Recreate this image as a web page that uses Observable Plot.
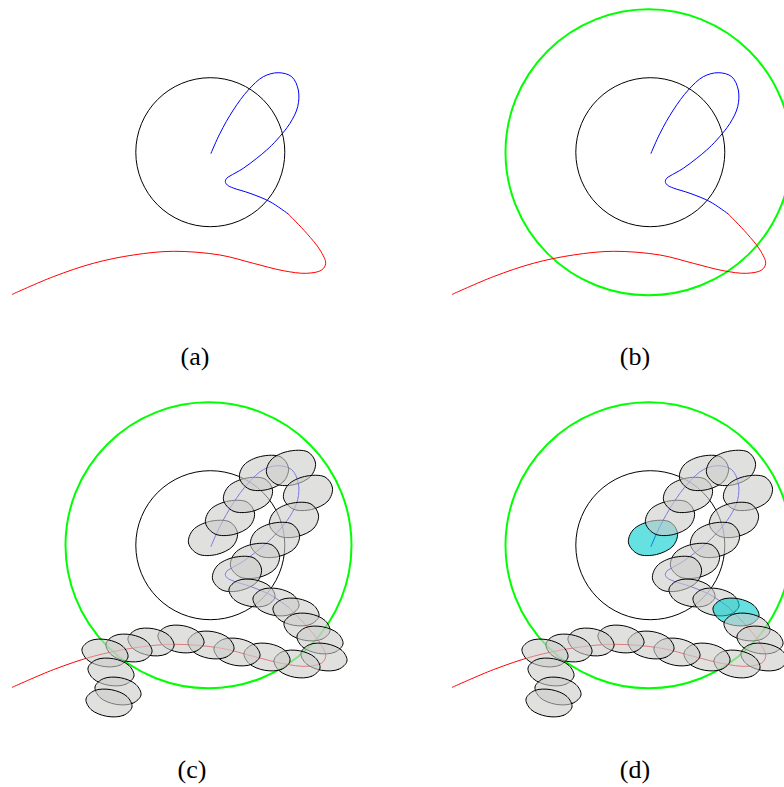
<!DOCTYPE html>
<html>
<head>
<meta charset="utf-8">
<style>html,body{margin:0;padding:0;background:#fff}svg{display:block}</style>
<script src="https://cdn.jsdelivr.net/npm/d3@7"></script>
<script src="https://cdn.jsdelivr.net/npm/@observablehq/plot@0.6"></script>
</head>
<body>
<script>
const panelNames = ["(a)", "(b)", "(c)", "(d)"];
const panelDx = [0, 440, 0, 440];
const panelDy = [0, 0, 393, 393];
const labelX = [195, 195, 192, 195];
const labelY = [357, 357, 377, 377];

const innerCircle = {x: 210.3, y: 152.2};
const outerCircle = {x: 208.5, y: 152.3};
const innerPanels = [0, 1, 2, 3];
const outerPanels = [1, 2, 3];

const blueX = [211,220,233.3,248.3,263.3,278.3,291.7,298.3,297.7,290,276.7,266.7,256.7,243.3,230,226.7,225.3,227.3,233.3,250,270,288.3];
const blueY = [153.3,133.3,110,90,76.7,72.7,76.7,90,106.7,123.3,140,150,158.3,168.3,176,178.3,181.7,185,188,193.3,201.7,214];
const redX = [288.3,306.7,320,325.7,321.7,306.7,283.3,253.3,220,173.3,133.3,93.3,53.3,12.3];
const redY = [214,233.3,250,263.3,270,273.3,270.7,263.3,255,251.3,255,263.3,276.7,294.3];

// blob centres, in the coordinates of panel (c)
const blobX = [213,230,248,264,291,308,294,275,255,237,252,276,296,307,320,324,297,267,237,211,181,151,129,105,111,118,109];
const blobY = [538,518,495,473,468,493,520,540,561,574,593,602,612,627,640,657,664,657,652,645,639,642,648,653,672,691,703];
const blobKind = ["U","U","U","U","U","U","U","U","U","U","D","D","D","D","D","D","D","D","D","D","D","D","D","D","D","D","D"];
const shapeUx = [24.5,20,3.5,-15,-24.5,-20,-3.5,17];
const shapeUy = [-5,8,16.5,16,5,-8,-16.5,-16];
const shapeDx = [23,14.7,-2.3,-18,-23,-14.7,2.3,18];
const shapeDy = [4,12.3,13.3,6.5,-4,-12.3,-13.3,-6.5];
const cyanBlobsInD = [0, 12];

const outline = (xs, ys, dx, dy) => xs.map((x, i) => ({x: x + dx, y: ys[i] + dy}));

const labels = panelNames.map((name, i) => ({name, x: labelX[i] + panelDx[i], y: labelY[i] + panelDy[i]}));
const inner = innerPanels.map(p => ({x: innerCircle.x + panelDx[p], y: innerCircle.y + panelDy[p]}));
const outer = outerPanels.map(p => ({x: outerCircle.x + panelDx[p], y: outerCircle.y + panelDy[p]}));

const blobs = [];
[2, 3].forEach(p => {
  blobX.forEach((cx, b) => {
    const sx = blobKind[b] === "U" ? shapeUx : shapeDx;
    const sy = blobKind[b] === "U" ? shapeUy : shapeDy;
    const fill = p === 3 && cyanBlobsInD.includes(b) ? "#00cdcd" : "#cbcbc9";
    sx.forEach((dx, k) => blobs.push({id: `${p}-${b}`, fill, x: cx + panelDx[p] + dx, y: blobY[b] + sy[k]}));
  });
});

const curveMarks = panelDx.flatMap((dx, p) => [
  Plot.line(outline(blueX, blueY, dx, panelDy[p]), {x: "x", y: "y", stroke: "#0000ff", strokeWidth: 1, curve: "catmull-rom"}),
  Plot.line(outline(redX, redY, dx, panelDy[p]), {x: "x", y: "y", stroke: "#ff0000", strokeWidth: 1, curve: "catmull-rom"})
]);

const chart = Plot.plot({
  width: 784,
  height: 787,
  margin: 0,
  style: {background: "#fff"},
  x: {domain: [0.5, 784.5], axis: null},
  y: {domain: [787.5, 0.5], axis: null},
  marks: [
    Plot.dot(inner, {x: "x", y: "y", r: 74.5, stroke: "#000", strokeWidth: 1, fill: "none"}),
    Plot.dot(outer, {x: "x", y: "y", r: 143, stroke: "#00ff00", strokeWidth: 2, fill: "none"}),
    ...curveMarks,
    Plot.line(blobs, {x: "x", y: "y", z: "id", fill: "fill", fillOpacity: 0.6, stroke: "#000", strokeWidth: 1, curve: "catmull-rom-closed"}),
    Plot.text(labels, {x: "x", y: "y", text: "name", fontFamily: "Liberation Serif", fontSize: 26, fill: "#000", textAnchor: "middle", lineAnchor: "middle"})
  ]
});
document.body.appendChild(chart);
</script>
</body>
</html>
